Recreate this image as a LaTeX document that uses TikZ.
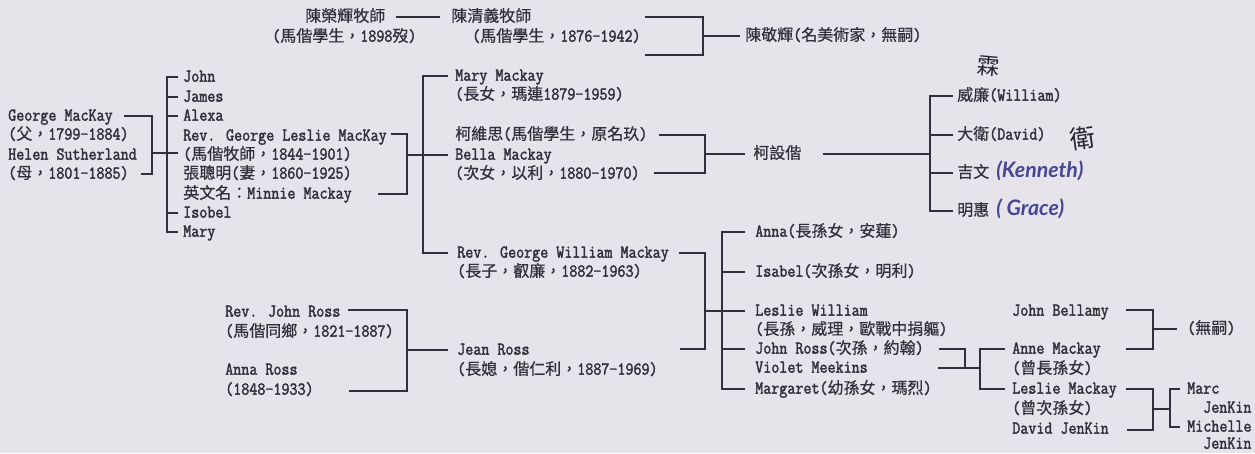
\documentclass[tikz,border=0pt]{standalone}
\usepackage{fontspec}
\usetikzlibrary{calc}
\setmainfont{Latin Modern Mono}[FakeBold=2, FakeStretch=0.86]
\newfontfamily\cjk{Noto Sans CJK TC}[FakeBold=0.6, Script=CJK, Language=Chinese Traditional]
\newfontfamily\hjk{Noto Sans CJK TC}
\newfontfamily\hand{Lato}
\definecolor{bg}{RGB}{231,227,235}
\definecolor{ink}{RGB}{50,48,60}
\definecolor{pen}{RGB}{70,72,150}
\definecolor{blot}{RGB}{40,36,48}
\newcommand\zh[1]{{\fontsize{12pt}{14pt}\cjk #1}}
\tikzset{
  tx/.style={anchor=west, inner sep=0pt, text height=9pt, text depth=2pt,
    font=\fontsize{13.6pt}{14pt}\selectfont, text=ink},
  ln/.style={draw=ink, line width=1.3pt},
  hw/.style={inner sep=0pt, text=blot, font=\fontsize{17pt}{18pt}\hjk},
  hwl/.style={anchor=west, inner sep=0pt, text height=9pt, text depth=2pt,
    text=pen, font=\fontsize{16pt}{18pt}\hand\bfseries\itshape}
}
\begin{document}
\begin{tikzpicture}[x=0.75pt, y=-0.75pt]
\useasboundingbox (0,0) rectangle (1255,453);
\fill[bg] (0,0) rectangle (1255,453);

% ---- top: Chen family
\node[tx] (cyh) at (305,17) {\zh{陳榮輝牧師}};
\node[tx] (cyhb) at (272,37) {(\zh{馬偕學生，}1898\zh{歿})};
\node[tx] (cqy) at (451,17) {\zh{陳清義牧師}};
\node[tx] (cqyb) at (472,37) {(\zh{馬偕學生，}1876-1942)};
\node[tx] (cjh) at (745,36) {\zh{陳敬輝}(\zh{名美術家，無嗣})};
\draw[ln] ($(cyh.east)+(10,0)$) -- ($(cqy.west)+(-11,0)$);
\coordinate (ct) at (645,17);
\coordinate (cb) at (645,55);
\coordinate (cj) at (703,36);
\draw[ln] (ct) -| (cj) |- (cb);
\draw[ln] (cj) -- ($(cjh.west)+(-5,0)$);

% ---- parents
\node[tx] (gm) at (8,116) {George MacKay};
\node[tx] (gmb) at (8,135) {(\zh{父，}1799-1884)};
\node[tx] (hs) at (8,155) {Helen Sutherland};
\node[tx] (hsb) at (8,174) {(\zh{母，}1801-1885)};
\coordinate (pj) at (152,153);
\draw[ln] ($(gm.east)+(11,0)$) -| (pj) |- ($(hsb.east)+(12,0)$);

% ---- siblings
\node[tx] (john) at (183,77) {John};
\node[tx] (james) at (183,97) {James};
\node[tx] (alexa) at (183,116) {Alexa};
\node[tx] (glm) at (183,136) {Rev. George Leslie MacKay};
\node[tx] (glmb) at (183,155) {(\zh{馬偕牧師，}1844-1901)};
\node[tx] (zcm) at (183,174) {\zh{張聰明}(\zh{妻，}1860-1925)};
\node[tx] (minnie) at (183,194) {\zh{英文名：}Minnie Mackay};
\node[tx] (isobel) at (183,213) {Isobel};
\node[tx] (mary) at (183,232) {Mary};
\coordinate (sbt) at (167,77);
\coordinate (sbb) at (167,232);
\draw[ln] ($(john.west)+(-5,0)$) -- (sbt) -- (sbb) -- ($(mary.west)+(-5,0)$);
\draw[ln] (167,97) -- ($(james.west)+(-5,0)$);
\draw[ln] (167,116) -- ($(alexa.west)+(-5,0)$);
\draw[ln] (167,213) -- ($(isobel.west)+(-5,0)$);
\draw[ln] (pj) -- ($(glmb.west)+(-5,-2)$);

% ---- children of G. L. MacKay
\coordinate (gj) at (407,155);
\draw[ln] ($(glm.east)+(4,-2)$) -| (gj) |- ($(minnie.east)+(26,0)$);
\node[tx] (mm) at (455,76) {Mary Mackay};
\node[tx] (mmb) at (455,95) {(\zh{長女，瑪連}1879-1959)};
\node[tx] (kws) at (455,135) {\zh{柯維思}(\zh{馬偕學生，原名玖})};
\node[tx] (bella) at (455,155) {Bella Mackay};
\node[tx] (bellab) at (455,174) {(\zh{次女，以利，}1880-1970)};
\node[tx] (rgw) at (457,253) {Rev. George William Mackay};
\node[tx] (rgwb) at (457,272) {(\zh{長子，叡廉，}1882-1963)};
\draw[ln] ($(mm.west)+(-7,0)$) -| (423,253) -- ($(rgw.west)+(-9,0)$);
\draw[ln] (gj) -- ($(bella.west)+(-7,0)$);

% ---- Ko family
\coordinate (bj) at (705,154);
\draw[ln] ($(kws.east)+(11,0)$) -| (bj) |- ($(bellab.east)+(14,-1)$);
\node[tx] (ksj) at (753,154) {\zh{柯設偕}};
\draw[ln] (bj) -- ($(ksj.west)+(-8,0)$);
\coordinate (kb) at (930,154);
\draw[ln] ($(ksj.east)+(21,0)$) -- (kb);
\node[tx] (wl) at (957,96) {\zh{威廉}(William)};
\node[tx] (dw) at (957,135) {\zh{大衛}(David)};
\node[tx] (jw) at (957,173) {\zh{吉文}};
\node[tx] (mh) at (957,211) {\zh{明惠}};
\node[hwl] (ken) at (996,173) {(Kenneth)};
\node[hwl] (gra) at (996,211) {(\ Grace)};
\node[hw, rotate=-5] (h1) at (988,66) {霖};
\node[hw, rotate=8, font=\fontsize{19pt}{20pt}\hjk] (h2) at (1083,138) {衛};
\draw[ln] ($(wl.west)+(-4,0)$) -| (930,211) -- ($(mh.west)+(-4,0)$);
\draw[ln] (930,135) -- ($(dw.west)+(-4,0)$);
\draw[ln] (930,173) -- ($(jw.west)+(-4,0)$);

% ---- Ross family
\node[tx] (rjr) at (225,312) {Rev. John Ross};
\node[tx] (rjrb) at (225,332) {(\zh{馬偕同鄉，}1821-1887)};
\node[tx] (ar) at (225,370) {Anna Ross};
\node[tx] (arb) at (225,390) {(1848-1933)};
\coordinate (rj) at (407,350);
\draw[ln] ($(rjr.east)+(7,-2)$) -| (rj) |- ($(arb.east)+(35,1)$);
\node[tx] (jr) at (457,350) {Jean Ross};
\node[tx] (jrb) at (457,370) {(\zh{長媳，偕仁利，}1887-1969)};
\draw[ln] (rj) -- ($(jr.west)+(-9,0)$);

% ---- grandchildren
\coordinate (gwj) at (705,311);
\coordinate (jre) at (680,349);
\draw[ln] ($(rgw.east)+(10,0)$) -| (gwj) |- (jre);
\node[tx] (anna) at (755,232) {Anna(\zh{長孫女，安蓮})};
\node[tx] (isab) at (755,272) {Isabel(\zh{次孫女，明利})};
\node[tx] (lw) at (755,311) {Leslie William};
\node[tx] (lwb) at (755,330) {(\zh{長孫，威理，歐戰中捐軀})};
\node[tx] (jross) at (755,349) {John Ross(\zh{次孫，約翰})};
\node[tx] (vm) at (755,368) {Violet Meekins};
\node[tx] (marg) at (755,389) {Margaret(\zh{幼孫女，瑪烈})};
\draw[ln] ($(anna.west)+(-10,0)$) -| (722,389) -- ($(marg.west)+(-10,0)$);
\draw[ln] (722,272) -- ($(isab.west)+(-10,0)$);
\draw[ln] (722,349) -- ($(jross.west)+(-10,0)$);
\draw[ln] (gwj) -- ($(lw.west)+(-10,0)$);

% ---- great-grandchildren
\coordinate (jrj) at (965,368);
\coordinate (vme) at (938,368);
\coordinate (ggb) at (980,368);
\draw[ln] ($(jross.east)+(15,0)$) -| (jrj);
\draw[ln] (vme) -- (ggb);
\node[tx] (jb) at (1012,311) {John Bellamy};
\node[tx] (anne) at (1012,349) {Anne Mackay};
\node[tx] (anneb) at (1012,369) {(\zh{曾長孫女})};
\node[tx] (lm) at (1012,389) {Leslie Mackay};
\node[tx] (lmb) at (1012,409) {(\zh{曾次孫女})};
\node[tx] (dj) at (1012,429) {David JenKin};
\draw[ln] ($(anne.west)+(-7,0)$) -| (980,389) -- ($(lm.west)+(-7,0)$);

\coordinate (bbj) at (1153,329);
\draw[ln] ($(jb.east)+(17,-1)$) -| (bbj) |- ($(anne.east)+(25,0)$);
\node[tx] (wus) at (1187,329) {(\zh{無嗣})};
\draw[ln] (bbj) -- ($(wus.west)+(-10,0)$);

\coordinate (ldj) at (1153,409);
\coordinate (jkb) at (1170,409);
\draw[ln] ($(lm.east)+(9,0)$) -| (ldj) |- ($(dj.east)+(18,1)$);
\draw[ln] (ldj) -- (jkb);
\node[tx] (marc) at (1187,389) {Marc};
\node[tx] (marcb) at (1203,408) {JenKin};
\node[tx] (mich) at (1187,427) {Michelle};
\node[tx] (michb) at (1203,444) {JenKin};
\draw[ln] ($(marc.west)+(-7,0)$) -| (1170,427) -- ($(mich.west)+(-7,0)$);
\end{tikzpicture}
\end{document}
